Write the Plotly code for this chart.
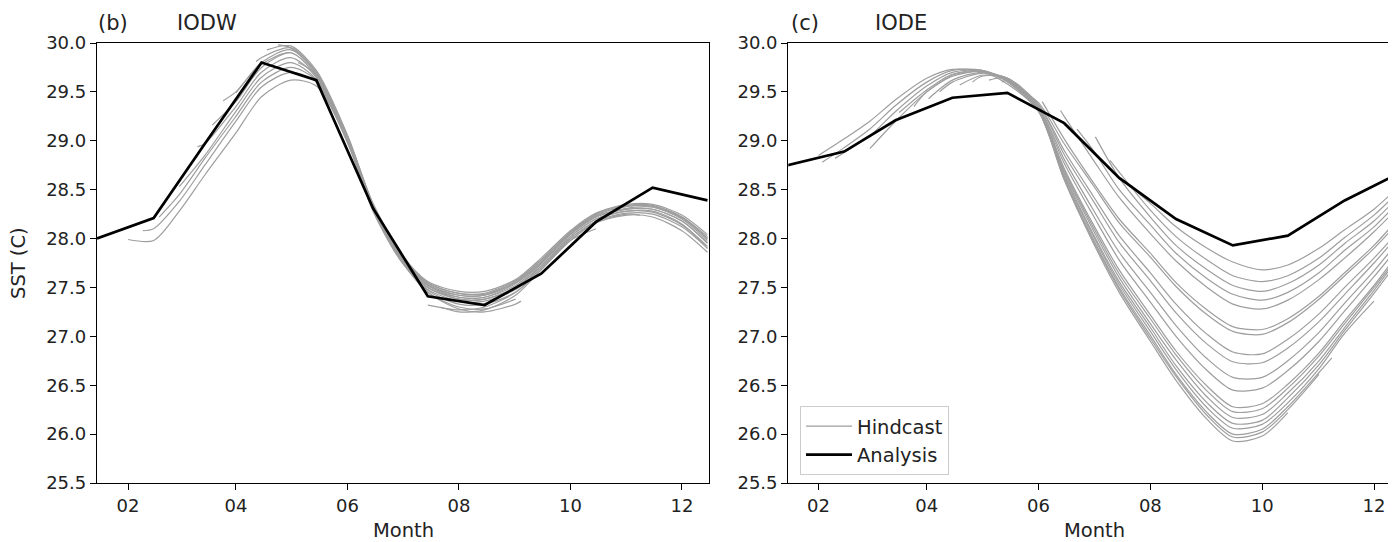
import plotly.graph_objects as go
from datetime import date

YEAR = 2001
# ---------------- data ----------------
ANALYSIS_DATES = ["01-15", "02-15", "03-15", "04-15", "05-15", "06-15",
                  "07-15", "08-15", "09-15", "10-15", "11-15", "12-15"]
IODW_ANALYSIS = [28.00, 28.21, 28.97, 29.80, 29.62, 28.31, 27.41, 27.32, 27.64, 28.17, 28.52, 28.39]
IODE_ANALYSIS = [28.75, 28.89, 29.21, 29.44, 29.49, 29.18, 28.62, 28.20, 27.93, 28.03, 28.39, 28.67]

TICK_DATES = ["02-01", "04-01", "06-01", "08-01", "10-01", "12-01"]
TICK_LABELS = ["02", "04", "06", "08", "10", "12"]
Y_TICKS = [25.5, 26.0, 26.5, 27.0, 27.5, 28.0, 28.5, 29.0, 29.5, 30.0]

# semi-monthly grid on which hindcast values were read
GRID_DATES = ["02-01", "02-15", "03-01", "03-15", "04-01", "04-15", "05-01", "05-15",
              "06-01", "06-15", "07-01", "07-15", "08-01", "08-15", "09-01", "09-15",
              "10-01", "10-15", "11-01", "11-15", "12-01", "12-15"]

# IODW hindcasts: start date, start value, following grid values, optional end point
IODW_HC_START = ["02-01", "02-09", "02-18", "03-01", "03-11", "03-19", "03-25", "04-01",
                 "04-12", "04-18", "04-24", "05-05", "06-05", "07-15", "07-22"]
IODW_HC_START_VAL = [27.99, 28.08, 28.22, 28.53, 28.94, 29.16, 29.41, 29.49,
                     29.81, 29.93, 29.98, 29.80, 28.85, 27.32, 27.30]
IODW_HC_VALUES = [
    [27.98, 28.28, 28.65, 29.08, 29.45, 29.62, 29.56, 29.00, 28.32, 27.78, 27.45, 27.28, 27.25, 27.33],
    [28.10, 28.38, 28.75, 29.20, 29.55, 29.70, 29.60, 28.98, 28.30, 27.76, 27.45, 27.30, 27.28, 27.38],
    [28.45, 28.82, 29.25, 29.60, 29.75, 29.62, 29.00, 28.30, 27.77, 27.47, 27.33, 27.33, 27.45, 27.68, 27.98, 28.10],
    [28.85, 29.30, 29.65, 29.80, 29.63, 29.00, 28.28, 27.75, 27.48, 27.36, 27.36, 27.48, 27.70, 28.00, 28.17, 28.25],
    [28.97, 29.35, 29.70, 29.85, 29.65, 29.00, 28.30, 27.76, 27.50, 27.38, 27.38, 27.50, 27.72, 28.02, 28.20, 28.28, 28.28, 28.15, 27.90],
    [29.40, 29.75, 29.90, 29.66, 29.02, 28.32, 27.78, 27.50, 27.40, 27.40, 27.52, 27.74, 28.04, 28.22, 28.30, 28.30, 28.18, 27.95],
    [29.50, 29.80, 29.93, 29.68, 29.03, 28.33, 27.80, 27.53, 27.42, 27.42, 27.55, 27.76, 28.05, 28.23, 28.31, 28.32, 28.20, 27.98],
    [29.78, 29.90, 29.66, 29.02, 28.32, 27.80, 27.52, 27.40, 27.40, 27.54, 27.75, 28.05, 28.24, 28.33, 28.33, 28.21, 28.00],
    [29.85, 29.95, 29.70, 29.05, 28.35, 27.82, 27.55, 27.44, 27.44, 27.57, 27.78, 28.07, 28.25, 28.34, 28.34, 28.22, 28.02],
    [29.97, 29.72, 29.06, 28.36, 27.83, 27.56, 27.46, 27.46, 27.58, 27.80, 28.08, 28.26, 28.35, 28.35, 28.24, 28.04],
    [29.95, 29.70, 29.05, 28.35, 27.82, 27.54, 27.44, 27.43, 27.56, 27.78, 28.06, 28.24, 28.33, 28.33, 28.22, 28.00],
    [29.68, 29.02, 28.33, 27.80, 27.52, 27.42, 27.42, 27.55, 27.76, 28.04, 28.22, 28.30, 28.30, 28.18, 27.96],
    [28.30, 27.78, 27.50, 27.38, 27.38, 27.50, 27.72, 28.02, 28.20, 28.28, 28.27, 28.14, 27.92],
    [27.27, 27.30, 27.45, 27.70, 28.00, 28.18, 28.26, 28.25, 28.12, 27.90],
    [27.25, 27.27, 27.42, 27.68, 27.98, 28.16, 28.24, 28.22, 28.08, 27.86],
]
IODW_HC_END = [("09-04", 27.36), None, None, ("11-08", 28.24), None, None, None, None,
               None, None, None, None, None, None, None]

IODE_HC_START = ["02-01", "02-03", "02-10", "03-01", "03-17", "03-25", "04-02", "04-08",
                 "04-19", "04-26", "05-05", "05-12", "05-22", "06-03", "06-13", "06-22",
                 "07-02", "07-10", "07-20"]
IODE_HC_START_VAL = [28.85, 28.78, 28.82, 28.92, 29.29, 29.35, 29.43, 29.50,
                     29.57, 29.60, 29.62, 29.60, 29.52, 29.40, 29.31, 29.12,
                     29.04, 28.80, 28.55]
IODE_HC_VALUES = [
    [29.02, 29.20, 29.42, 29.64, 29.73, 29.71, 29.58, 29.30, 28.60, 27.95, 27.45, 26.95, 26.55, 26.15, 25.93, 25.98, 26.22],
    [28.93, 29.12, 29.36, 29.60, 29.72, 29.72, 29.60, 29.30, 28.61, 27.97, 27.48, 26.98, 26.59, 26.19, 25.97, 26.02, 26.25, 26.61],
    [28.88, 29.05, 29.30, 29.56, 29.70, 29.72, 29.61, 29.31, 28.62, 27.99, 27.50, 27.01, 26.61, 26.22, 26.00, 26.05, 26.28, 26.63],
    [29.20, 29.50, 29.67, 29.71, 29.62, 29.31, 28.64, 28.02, 27.53, 27.05, 26.66, 26.27, 26.06, 26.10, 26.32, 26.67, 27.03, 27.36],
    [29.52, 29.68, 29.72, 29.62, 29.31, 28.66, 28.04, 27.56, 27.09, 26.70, 26.32, 26.11, 26.14, 26.37, 26.71, 27.06, 27.44],
    [29.50, 29.66, 29.71, 29.63, 29.32, 28.68, 28.08, 27.60, 27.13, 26.76, 26.38, 26.17, 26.20, 26.42, 26.75, 27.09, 27.47, 27.82],
    [29.62, 29.70, 29.63, 29.32, 28.70, 28.11, 27.64, 27.18, 26.81, 26.44, 26.23, 26.26, 26.47, 26.80, 27.13, 27.50, 27.84],
    [29.60, 29.69, 29.64, 29.33, 28.72, 28.14, 27.68, 27.22, 26.85, 26.49, 26.28, 26.31, 26.51, 26.83, 27.16, 27.52, 27.87],
    [29.67, 29.64, 29.34, 28.77, 28.23, 27.78, 27.35, 27.00, 26.65, 26.45, 26.47, 26.65, 26.95, 27.26, 27.61, 27.93],
    [29.66, 29.64, 29.35, 28.81, 28.29, 27.86, 27.45, 27.11, 26.77, 26.58, 26.58, 26.75, 27.04, 27.34, 27.67, 27.99],
    [29.64, 29.37, 28.86, 28.38, 27.96, 27.57, 27.24, 26.92, 26.74, 26.73, 26.88, 27.15, 27.43, 27.75, 28.05],
    [29.62, 29.37, 28.90, 28.43, 28.03, 27.65, 27.33, 27.02, 26.84, 26.82, 26.97, 27.23, 27.50, 27.80, 28.09],
    [29.39, 28.97, 28.54, 28.16, 27.81, 27.51, 27.22, 27.05, 27.02, 27.14, 27.38, 27.62, 27.90, 28.18],
    [29.02, 28.57, 28.20, 27.85, 27.55, 27.27, 27.10, 27.07, 27.18, 27.41, 27.65, 27.93, 28.22],
    [29.25, 28.80, 28.42, 28.05, 27.77, 27.50, 27.33, 27.28, 27.37, 27.58, 27.80, 28.07, 28.33],
    [28.90, 28.50, 28.14, 27.85, 27.59, 27.43, 27.37, 27.45, 27.65, 27.88, 28.12, 28.39],
    [28.62, 28.22, 27.93, 27.68, 27.52, 27.46, 27.54, 27.73, 27.95, 28.18, 28.44],
    [28.68, 28.29, 28.02, 27.78, 27.62, 27.56, 27.62, 27.80, 28.01, 28.24, 28.49],
    [28.36, 28.12, 27.90, 27.76, 27.68, 27.73, 27.90, 28.09, 28.30, 28.54],
]
IODE_HC_END = [None, None, ("11-08", 26.78), None, ("12-09", 27.64), None, None, None,
               None, None, None, None, None, None, None, None, None, None, None]

# ---------------- helpers ----------------
def d(md):
    return f"{YEAR}-{md}"

def md_key(md):
    m, dd = md.split("-")
    return date(YEAR, int(m), int(dd))

def hindcast_xy(start, start_val, vals, end):
    xs = [d(start)]
    ys = [start_val]
    s = md_key(start)
    following = [g for g in GRID_DATES if md_key(g) > s]
    for g, v in zip(following, vals):
        xs.append(d(g))
        ys.append(v)
    if end is not None:
        xs.append(d(end[0]))
        ys.append(end[1])
    return xs, ys

GRAY = "#9e9e9e"
FONT = "DejaVu Sans"
OFF = 8                       # page body margin of the html wrapper
W, H = 1396 - OFF, 542 - OFF  # figure size so that page fits the window
ML, MT = 97 - OFF, 43 - OFF
BOTTOM = 483 - OFF
MB = H - BOTTOM
PW, PH = W - ML, H - MT - MB

def px(xp):   # window pixel -> paper coordinate
    return (xp - OFF - ML) / PW

def py(yp):
    return (H - MB - (yp - OFF)) / PH

fig = go.Figure()

panels = [
    ("x", "y", IODW_HC_START, IODW_HC_START_VAL, IODW_HC_VALUES, IODW_HC_END, IODW_ANALYSIS, False),
    ("x2", "y2", IODE_HC_START, IODE_HC_START_VAL, IODE_HC_VALUES, IODE_HC_END, IODE_ANALYSIS, True),
]
for xa, ya, st, sv, vals, ends, ana, leg in panels:
    for i in range(len(st)):
        xs, ys = hindcast_xy(st[i], sv[i], vals[i], ends[i])
        fig.add_trace(go.Scatter(
            x=xs, y=ys, mode="lines", xaxis=xa, yaxis=ya,
            line=dict(color=GRAY, width=1.2, shape="spline", smoothing=0.8),
            name="Hindcast", legendgroup="h", showlegend=(leg and i == 0),
            hoverinfo="skip"))
    fig.add_trace(go.Scatter(
        x=[d(m) for m in ANALYSIS_DATES], y=ana, mode="lines", xaxis=xa, yaxis=ya,
        line=dict(color="black", width=2.7),
        name="Analysis", legendgroup="a", showlegend=leg))

axis_common = dict(
    showgrid=False, zeroline=False, showline=True, linecolor="black", linewidth=1.3,
    ticks="outside", ticklen=6, tickwidth=1.3, tickcolor="black", automargin=False,
    tickfont=dict(family=FONT, size=18, color="#222"),
)
xcommon = dict(axis_common, type="date", tickvals=[d(t) for t in TICK_DATES], ticktext=TICK_LABELS,
               mirror=True)
fig.update_layout(
    width=W, height=H,
    margin=dict(l=ML, r=0, t=MT, b=MB, autoexpand=False),
    paper_bgcolor="white", plot_bgcolor="white",
    font=dict(family=FONT, size=19, color="#222"),
    xaxis=dict(xcommon, domain=[0, px(709.3)], range=[d("01-15"), d("12-16")], anchor="y"),
    xaxis2=dict(xcommon, domain=[px(788.3), 1.0],
                range=[f"{YEAR}-01-15 12:00", f"{YEAR}-12-13 00:00"], anchor="y2"),
    yaxis=dict(axis_common, domain=[0, 1], range=[25.5, 30.0], tickvals=Y_TICKS,
               tickformat=".1f", mirror=True, anchor="x"),
    yaxis2=dict(axis_common, domain=[0, 1], range=[25.5, 30.0], tickvals=Y_TICKS,
                tickformat=".1f", mirror=False, anchor="x2"),
    showlegend=True,
    legend=dict(x=px(800), y=py(406), xanchor="left", yanchor="top",
                bgcolor="rgba(255,255,255,0.9)", bordercolor="#cccccc", borderwidth=1,
                font=dict(family=FONT, size=19.5, color="#222"), tracegroupgap=0,
                itemwidth=46),
)

def ann(text, xpx, ypx, xanchor="left", angle=0, size=19):
    fig.add_annotation(text=text, x=px(xpx), y=py(ypx), xref="paper", yref="paper",
                       xanchor=xanchor, yanchor="middle", showarrow=False, textangle=angle,
                       font=dict(family=FONT, size=size, color="#222"))

ann("(b)", 96, 23, size=21)
ann("IODW", 175, 23, size=21)
ann("(c)", 789, 23, size=21)
ann("IODE", 873, 23, size=21)
ann("SST (C)", 18, 263, xanchor="center", angle=-90, size=19.5)
ann("Month", (96.7 + 709.3) / 2, 530, xanchor="center", size=19.5)
ann("Month", (788.3 + 1401) / 2, 530, xanchor="center", size=19.5)

fig.write_html("out.html")
